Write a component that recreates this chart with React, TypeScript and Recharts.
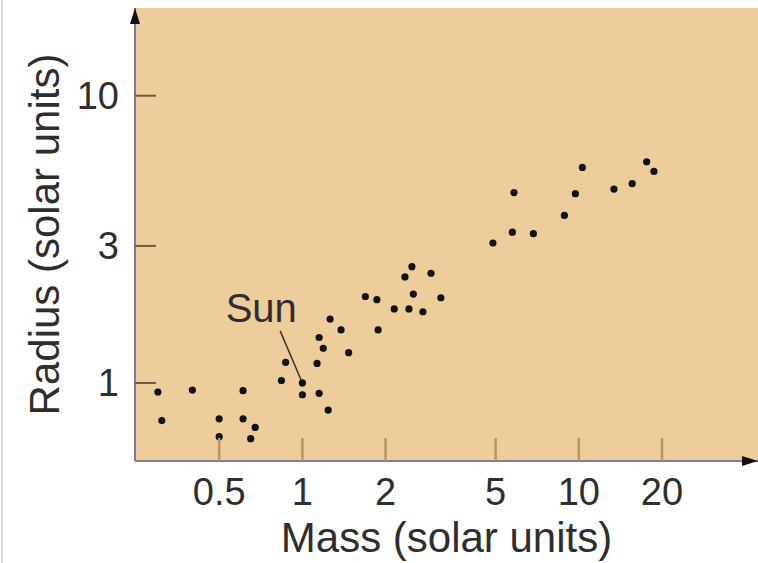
import {
  ScatterChart,
  Scatter,
  XAxis,
  YAxis,
  CartesianGrid,
  ReferenceLine,
  ReferenceDot,
} from 'recharts';

// Main-sequence stars, mass and radius in solar units
const starMass = [
  0.3, 0.4, 0.61, 0.31, 0.5, 0.61, 0.675, 0.5, 0.65, 0.87, 0.84, 1.0, 1.0, 1.15, 1.24,
  1.13, 1.19, 1.15, 1.26, 1.38, 1.47, 1.69, 1.86, 1.88, 2.15, 2.43, 2.73, 2.52, 2.35,
  2.49, 2.92, 3.17, 4.89, 5.75, 6.85, 5.83, 8.87, 9.72, 10.3, 13.4, 15.6, 17.6, 18.7,
];
const starRadius = [
  0.93, 0.945, 0.94, 0.74, 0.75, 0.75, 0.7, 0.65, 0.64, 1.18, 1.02, 1.0, 0.91, 0.92, 0.805,
  1.17, 1.32, 1.44, 1.67, 1.53, 1.275, 2.0, 1.95, 1.53, 1.81, 1.81, 1.77, 2.04, 2.34,
  2.54, 2.41, 1.98, 3.07, 3.35, 3.31, 4.6, 3.83, 4.56, 5.63, 4.73, 4.94, 5.89, 5.45,
];

const massTicks = [0.5, 1, 2, 5, 10, 20];
const radiusTicks = [1, 3, 10];

// Sun callout: label anchor and leader line start
const sunLabel = { mass: 0.71, radius: 1.824 };
const sunLeader = { mass: 0.831, radius: 1.518 };
const sunStar = { mass: 1, radius: 1 };

const stars = starMass.map((m, i) => ({ mass: m, radius: starRadius[i] }));

const FONT = '"Liberation Sans", Arial, Helvetica, sans-serif';
const PANEL = '#ECCD9B';
const AXIS = '#7c8088';
const TEXT = '#2e2e2e';

const Y_MARGIN = 16;
const X_MARGIN = 17;

function RadiusTick(props: any) {
  const { x, y, payload } = props;
  const axisX = x + Y_MARGIN;
  return (
    <g>
      <line x1={axisX} x2={axisX + 21} y1={y} y2={y} stroke="#6b5a3e" strokeWidth={2} />
      <text x={x} y={y} textAnchor="end" dominantBaseline="central" fontSize={38} fontFamily={FONT} fill={TEXT}>
        {payload.value}
      </text>
    </g>
  );
}

function MassTick(props: any) {
  const { x, y, payload } = props;
  const axisY = y - X_MARGIN;
  return (
    <g>
      <line x1={x} x2={x} y1={axisY - 23} y2={axisY} stroke="#b5966a" strokeWidth={2.5} />
      <text x={x} y={y + 27} textAnchor="middle" fontSize={38} fontFamily={FONT} fill={TEXT}>
        {payload.value}
      </text>
    </g>
  );
}

function StarDot(props: any) {
  const { cx, cy } = props;
  return <circle cx={cx} cy={cy} r={3.6} fill="#111" />;
}

export default function App() {
  return (
    <div style={{ position: 'absolute', left: 0, top: 0, background: '#fff' }}>
      <div
        style={{ position: 'absolute', left: 1, top: 0, width: 2, height: 563, background: '#d6d6d6' }}
      />
      <ScatterChart width={758} height={563} margin={{ top: 8, right: 0, bottom: 0, left: 0 }}>
        <defs>
          <marker
            id="axis-arrow"
            viewBox="0 0 16 10"
            refX={16}
            refY={5}
            markerWidth={16}
            markerHeight={10}
            markerUnits="userSpaceOnUse"
            orient="auto-start-reverse"
          >
            <path d="M0,0 L16,5 L0,10 z" fill="#111" />
          </marker>
        </defs>
        <CartesianGrid horizontal={false} vertical={false} fill={PANEL} stroke="none" />
        <XAxis
          type="number"
          dataKey="mass"
          scale="log"
          domain={[0.248, 44.5]}
          allowDataOverflow
          ticks={massTicks}
          height={102}
          tickSize={0}
          tickMargin={X_MARGIN}
          tick={<MassTick />}
          axisLine={{ stroke: AXIS, strokeWidth: 2, markerEnd: 'url(#axis-arrow)' }}
          label={({ viewBox }: any) => (
            <text
              x={viewBox.x + viewBox.width / 2}
              y={viewBox.y + 91}
              textAnchor="middle"
              fontSize={42}
              fontFamily={FONT}
              fill={TEXT}
            >
              Mass (solar units)
            </text>
          )}
        />
        <YAxis
          type="number"
          dataKey="radius"
          scale="log"
          domain={[0.535, 20.2]}
          allowDataOverflow
          ticks={radiusTicks}
          width={135}
          tickSize={0}
          tickMargin={Y_MARGIN}
          tick={<RadiusTick />}
          axisLine={{ stroke: AXIS, strokeWidth: 2, markerStart: 'url(#axis-arrow)' }}
          label={({ viewBox }: any) => {
            const cx = viewBox.x + 44;
            const cy = viewBox.y + viewBox.height / 2;
            return (
              <text
                x={cx}
                y={cy}
                transform={`rotate(-90, ${cx}, ${cy})`}
                textAnchor="middle"
                dominantBaseline="central"
                fontSize={42}
                fontFamily={FONT}
                fill={TEXT}
              >
                Radius (solar units)
              </text>
            );
          }}
        />
        <ReferenceLine
          segment={[
            { x: sunLeader.mass, y: sunLeader.radius },
            { x: sunStar.mass, y: sunStar.radius },
          ]}
          stroke="#333"
          strokeWidth={1.5}
        />
        <ReferenceDot
          x={sunLabel.mass}
          y={sunLabel.radius}
          r={0}
          fill="none"
          stroke="none"
          label={{ value: 'Sun', position: 'center', fontSize: 40, fontFamily: FONT, fill: TEXT }}
        />
        <Scatter data={stars} shape={<StarDot />} isAnimationActive={false} />
      </ScatterChart>
    </div>
  );
}
